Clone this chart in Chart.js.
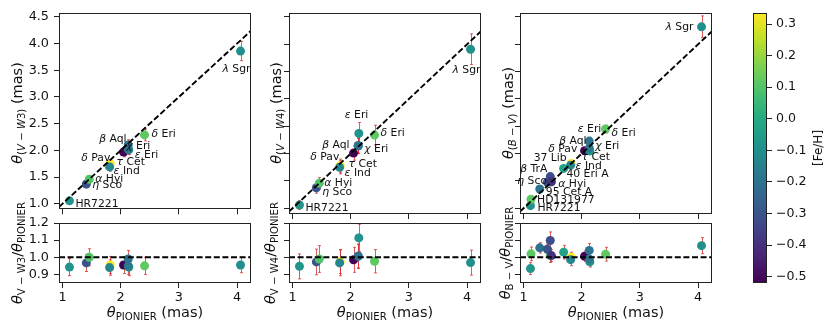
<!DOCTYPE html>
<html>
<head>
<meta charset="utf-8">
<script src="https://cdn.jsdelivr.net/npm/chart.js@4.4.1/dist/chart.umd.min.js"></script>
<style>
body { margin: 0; background: #fff; }
#wrap { position: relative; width: 830px; height: 333px; overflow: hidden; font-family: 'DejaVu Sans'; color: #111; }
canvas { position: absolute; }
.yt { position: absolute; white-space: nowrap; font-size: 14.5px; transform: translate(-50%, -50%) rotate(-90deg); }
.xt { position: absolute; white-space: nowrap; font-size: 14.5px; transform: translate(-50%, -50%); }
.cbt { position: absolute; white-space: nowrap; font-size: 12px; transform: translate(-50%, -50%) rotate(-90deg); }
sub { font-size: 70%; vertical-align: -0.3em; line-height: 0; }
</style>
</head>
<body>
<div id="wrap">
  <canvas id="c1"></canvas><canvas id="c2"></canvas><canvas id="c3"></canvas>
  <canvas id="r1"></canvas><canvas id="r2"></canvas><canvas id="r3"></canvas>
  <canvas id="cb"></canvas>

  <div class="yt" style="left:17px; top:113px"><i>θ</i><sub>(<i>V</i> − <i>W</i>3)</sub> (mas)</div>
  <div class="yt" style="left:276px; top:113px"><i>θ</i><sub>(<i>V</i> − <i>W</i>4)</sub> (mas)</div>
  <div class="yt" style="left:508px; top:113px"><i>θ</i><sub>(<i>B</i> − <i>V</i>)</sub> (mas)</div>

  <div class="yt" style="left:17px; top:253px"><i>θ</i><sub>V − W3</sub>/<i>θ</i><sub>PIONIER</sub></div>
  <div class="yt" style="left:270px; top:253px"><i>θ</i><sub>V − W4</sub>/<i>θ</i><sub>PIONIER</sub></div>
  <div class="yt" style="left:505px; top:253px"><i>θ</i><sub>B − V</sub>/<i>θ</i><sub>PIONIER</sub></div>

  <div class="xt" style="left:155px; top:312px"><i>θ</i><sub>PIONIER</sub> (mas)</div>
  <div class="xt" style="left:385px; top:312px"><i>θ</i><sub>PIONIER</sub> (mas)</div>
  <div class="xt" style="left:616px; top:312px"><i>θ</i><sub>PIONIER</sub> (mas)</div>

  <div class="cbt" style="left:818px; top:148px">[Fe/H]</div>
</div>
<script>
// stars, PIONIER diameters (mas) and metallicity
var stars = ['HR7221', 'HD131977', '95 Cet A', 'α Hyi', 'η Sco', 'β TrA', '40 Eri A', '37 Lib', 'δ Pav', 'ε Ind', 'τ Cet', 'ε Eri', 'χ Eri', 'β Aql', 'δ Eri', 'λ Sgr'];
var thetaPionier = [1.12, 1.13, 1.28, 1.46, 1.41, 1.46, 1.48, 1.69, 1.82, 1.81, 2.05, 2.14, 2.13, 2.13, 2.41, 4.06];
var feh = [-0.08, 0.12, -0.2, 0.1, -0.3, -0.32, -0.4, -0.03, 0.335, -0.13, -0.52, -0.09, -0.18, -0.2, 0.12, -0.1];

// V-W3 and V-W4 relations (same stars)
var starsW = ['HR7221', 'η Sco', 'α Hyi', 'δ Pav', 'ε Ind', 'τ Cet', 'ε Eri', 'χ Eri', 'β Aql', 'δ Eri', 'λ Sgr'];
var thetaW3 = [1.055, 1.37, 1.46, 1.75, 1.69, 1.97, 2.01, 2.02, 2.10, 2.29, 3.86];
var errW3 = [0.05, 0.07, 0.07, 0.08, 0.08, 0.09, 0.09, 0.09, 0.10, 0.11, 0.18];
var ratioW3 = [0.943, 0.967, 1.00, 0.955, 0.94, 0.955, 0.943, 0.95, 0.99, 0.95, 0.955];
var ratioErrW3 = [0.05, 0.05, 0.05, 0.05, 0.045, 0.05, 0.05, 0.05, 0.05, 0.05, 0.045];

var thetaW4 = [1.06, 1.377, 1.46, 1.78, 1.75, 2.01, 2.37, 2.14, 2.15, 2.34, 3.91];
var errW4 = [0.08, 0.10, 0.10, 0.12, 0.12, 0.13, 0.20, 0.14, 0.14, 0.18, 0.28];
var ratioW4 = [0.947, 0.973, 0.99, 0.975, 0.967, 0.985, 1.113, 1.005, 1.008, 0.977, 0.969];
var ratioErrW4 = [0.073, 0.075, 0.078, 0.07, 0.075, 0.073, 0.08, 0.07, 0.07, 0.068, 0.073];

// B-V relation (all stars)
var thetaBV = [1.048, 1.165, 1.354, 1.48, 1.476, 1.58, 1.487, 1.73, 1.82, 1.79, 2.055, 2.05, 2.10, 2.23, 2.45, 4.32];
var errBV = [0.04, 0.04, 0.04, 0.05, 0.05, 0.05, 0.05, 0.05, 0.05, 0.05, 0.05, 0.05, 0.05, 0.06, 0.07, 0.20];
var ratioBV = [0.934, 1.02, 1.055, 1.01, 1.047, 1.098, 1.01, 1.03, 1.0, 0.986, 1.006, 0.973, 0.99, 1.04, 1.018, 1.068];
var ratioErrBV = [0.035, 0.04, 0.03, 0.04, 0.03, 0.05, 0.035, 0.04, 0.03, 0.035, 0.03, 0.03, 0.03, 0.04, 0.04, 0.047];

// axes
var xMin = 0.94, xMax = 4.24;
var yTopMin = 0.896, yTopMax = 4.573;
var yRatMin = 0.85, yRatMax = 1.2;
var xTicks = [1, 2, 3, 4];
var yTopTicks = [1.0, 1.5, 2.0, 2.5, 3.0, 3.5, 4.0, 4.5];
var yRatTicks = [0.9, 1.0, 1.1, 1.2];
var cbMin = -0.52, cbMax = 0.335;
var cbTicks = [-0.5, -0.4, -0.3, -0.2, -0.1, 0.0, 0.1, 0.2, 0.3];

// label offsets in pixels from each point (left edge of text, middle)
var labelsW3 = {'λ Sgr': [-18, 18], 'δ Eri': [7, -1], 'β Aql': [-29, -6], 'χ Eri': [-2, -3], 'ε Eri': [6, 5],
  'δ Pav': [-29, -6], 'τ Cet': [-7, 10], 'ε Ind': [4, 4], 'α Hyi': [6, 0], 'η Sco': [6, 1], 'HR7221': [6, 3.5]};
var labelsW4 = {'λ Sgr': [-18, 21], 'ε Eri': [-14, -18], 'δ Eri': [6, -2], 'β Aql': [-36, 0], 'χ Eri': [6, 3],
  'δ Pav': [-30, -8], 'τ Cet': [-5, 11], 'ε Ind': [5, 6], 'α Hyi': [5, 0], 'η Sco': [6, 4], 'HR7221': [6, 3]};
var labelsBV = {'λ Sgr': [-36, 0], 'ε Eri': [-12, -22], 'δ Eri': [6, 4], 'β Aql': [-30, 0], 'χ Eri': [6, -2],
  'δ Pav': [-23, -14], 'τ Cet': [-3, 7], '37 Lib': [-30, -10], 'ε Ind': [5, 1], '40 Eri A': [15, -7],
  'β TrA': [-30, -7], 'α Hyi': [8, 2], 'η Sco': [-30, -1], '95 Cet A': [6, 3], 'HD131977': [6, 1], 'HR7221': [7, 3]};

Chart.defaults.font.family = 'DejaVu Sans';
Chart.defaults.color = '#111';

var VIR = ['#440154', '#482475', '#414487', '#355f8d', '#2a788e', '#21918c', '#22a884', '#44bf70', '#7ad151', '#bddf26', '#fde725'];

function hexToRgb(h) {
    return [parseInt(h.substr(1, 2), 16), parseInt(h.substr(3, 2), 16), parseInt(h.substr(5, 2), 16)];
}

function viridis(v) {
    var t = Math.max(0, Math.min(1, (v - cbMin) / (cbMax - cbMin)));
    var s = t * (VIR.length - 1);
    var i = Math.min(Math.floor(s), VIR.length - 2);
    var f = s - i;
    var a = hexToRgb(VIR[i]), b = hexToRgb(VIR[i + 1]);
    return 'rgb(' + [0, 1, 2].map(function(k) { return Math.round(a[k] + (b[k] - a[k]) * f); }).join(',') + ')';
}

// error bars under the points
var errPlugin = {
    id: 'errbars',
    beforeDatasetsDraw: function(chart) {
        var ds = chart.data.datasets[1];
        if (!ds || !ds.errors) return;
        var xs = chart.scales.x, ys = chart.scales.y, c = chart.ctx;
        c.save();
        c.strokeStyle = 'rgba(214, 39, 40, 0.75)';
        c.lineWidth = 1;
        ds.data.forEach(function(p, i) {
            var px = Math.round(xs.getPixelForValue(p.x)) + 0.5;
            var y1 = ys.getPixelForValue(p.y - ds.errors[i]);
            var y2 = ys.getPixelForValue(p.y + ds.errors[i]);
            c.beginPath();
            c.moveTo(px, y1); c.lineTo(px, y2);
            c.moveTo(px - 1.5, y1); c.lineTo(px + 1.5, y1);
            c.moveTo(px - 1.5, y2); c.lineTo(px + 1.5, y2);
            c.stroke();
        });
        c.restore();
    }
};

// star names next to the points
var labelPlugin = {
    id: 'starlabels',
    afterDatasetsDraw: function(chart) {
        var ds = chart.data.datasets[1];
        if (!ds || !ds.offsets) return;
        var xs = chart.scales.x, ys = chart.scales.y, c = chart.ctx;
        c.save();
        c.fillStyle = '#111';
        c.textBaseline = 'middle';
        ds.names.forEach(function(n, i) {
            var off = ds.offsets[n];
            if (!off) return;
            var p = ds.data[i];
            var x = xs.getPixelForValue(p.x) + off[0];
            var y = ys.getPixelForValue(p.y) + off[1];
            if (/^[α-ω]/.test(n)) {
                c.font = 'italic 10.8px "DejaVu Sans"';
                c.fillText(n.charAt(0), x, y);
                x += c.measureText(n.charAt(0)).width;
                n = n.slice(1);
            }
            c.font = '10.8px "DejaVu Sans"';
            c.fillText(n, x, y);
        });
        c.restore();
    }
};

// full frame round the plot area
var boxPlugin = {
    id: 'box',
    afterDraw: function(chart) {
        var a = chart.chartArea, c = chart.ctx;
        c.save();
        c.strokeStyle = '#222';
        c.lineWidth = 1;
        c.strokeRect(Math.round(a.left) + 0.5, Math.round(a.top) + 0.5, Math.round(a.right - a.left) - 1, Math.round(a.bottom - a.top) - 1);
        c.restore();
    }
};

var tickGrid = { display: true, drawOnChartArea: false, drawTicks: true, tickLength: 5, color: '#222', lineWidth: 1 };

function place(id, rect) {
    var cv = document.getElementById(id);
    cv.width = rect.w; cv.height = rect.h;
    cv.style.left = rect.x + 'px'; cv.style.top = rect.y + 'px';
    return cv;
}

function fixedTicks(list) {
    return function(s) { s.ticks = list.map(function(v) { return { value: v }; }); };
}

function panel(id, rect, area, yW, xH, o) {
    var cv = place(id, rect);
    var pts = o.names.map(function(n, i) { return { x: thetaPionier[stars.indexOf(n)], y: o.values[i] }; });
    var cols = o.names.map(function(n) { return viridis(feh[stars.indexOf(n)]); });
    return new Chart(cv, {
        type: 'scatter',
        data: {
            datasets: [{
                type: 'line',
                data: o.ref,
                borderColor: '#000',
                borderWidth: 1.9,
                borderDash: [6, 2.6],
                pointRadius: 0,
                fill: false,
                order: 0
            }, {
                data: pts,
                pointRadius: 4.5,
                pointBackgroundColor: cols,
                pointBorderColor: cols,
                pointBorderWidth: 0,
                errors: o.errors,
                names: o.names,
                offsets: o.labels,
                order: 1
            }]
        },
        options: {
            responsive: false,
            animation: false,
            events: [],
            layout: {
                padding: {
                    left: area.l - rect.x - yW,
                    top: area.t - rect.y,
                    right: rect.x + rect.w - area.r,
                    bottom: rect.y + rect.h - area.b - xH
                }
            },
            plugins: { legend: { display: false }, tooltip: { enabled: false } },
            scales: {
                x: {
                    type: 'linear', min: xMin, max: xMax, bounds: 'data',
                    afterBuildTicks: fixedTicks(xTicks),
                    afterFit: function(s) { s.height = xH; },
                    ticks: { display: o.xLabels, font: { size: 12.8 }, color: '#111', padding: 2,
                        callback: function(v) { return String(v); } },
                    grid: tickGrid,
                    border: { display: false }
                },
                y: {
                    type: 'linear', min: o.yMin, max: o.yMax, bounds: 'data',
                    afterBuildTicks: fixedTicks(o.yTicks),
                    afterFit: function(s) { s.width = yW; },
                    ticks: { display: o.yLabels, font: { size: 12.8 }, color: '#111', padding: 5,
                        callback: function(v) { return v.toFixed(1); } },
                    grid: tickGrid,
                    border: { display: false }
                }
            }
        },
        plugins: [errPlugin, labelPlugin, boxPlugin]
    });
}

var topRef = [{ x: xMin, y: xMin }, { x: xMax, y: xMax }];
var ratRef = [{ x: xMin, y: 1 }, { x: xMax, y: 1 }];

// columns: plot areas in page pixels
var cols3 = [
    { canvasX: 0, w: 262, l: 59, r: 251, yW: 59, labels: true },
    { canvasX: 282, w: 210, l: 289, r: 481, yW: 5, labels: false },
    { canvasX: 513, w: 210, l: 520, r: 712, yW: 5, labels: false }
];
var sets = [
    { names: starsW, top: thetaW3, topErr: errW3, rat: ratioW3, ratErr: ratioErrW3, lab: labelsW3 },
    { names: starsW, top: thetaW4, topErr: errW4, rat: ratioW4, ratErr: ratioErrW4, lab: labelsW4 },
    { names: stars, top: thetaBV, topErr: errBV, rat: ratioBV, ratErr: ratioErrBV, lab: labelsBV }
];

for (var k = 0; k < 3; k++) {
    var cc = cols3[k], st = sets[k];
    panel('c' + (k + 1), { x: cc.canvasX, y: 0, w: cc.w, h: 222 }, { l: cc.l, r: cc.r, t: 13, b: 214 }, cc.yW, 5, {
        names: st.names, values: st.top, errors: st.topErr, labels: st.lab, ref: topRef,
        yMin: yTopMin, yMax: yTopMax, yTicks: yTopTicks, xLabels: false, yLabels: cc.labels
    });
    panel('r' + (k + 1), { x: cc.canvasX, y: 208, w: cc.w, h: 100 }, { l: cc.l, r: cc.r, t: 223, b: 283 }, cc.yW, 22, {
        names: st.names, values: st.rat, errors: st.ratErr, labels: null, ref: ratRef,
        yMin: yRatMin, yMax: yRatMax, yTicks: yRatTicks, xLabels: true, yLabels: cc.labels
    });
}

// colour bar
var cbRect = { x: 748, y: 0, w: 70, h: 333 };
var cbArea = { l: 753, r: 767, t: 13, b: 283 };
new Chart(place('cb', cbRect), {
    type: 'bar',
    data: {
        labels: [''],
        datasets: [{
            data: [[cbMin, cbMax]],
            backgroundColor: function(ctx) {
                var ch = ctx.chart;
                if (!ch.chartArea) return null;
                var y = ch.scales.y;
                var g = ch.ctx.createLinearGradient(0, y.getPixelForValue(cbMin), 0, y.getPixelForValue(cbMax));
                VIR.forEach(function(h, i) { g.addColorStop(i / (VIR.length - 1), h); });
                return g;
            },
            barPercentage: 1,
            categoryPercentage: 1,
            borderWidth: 0
        }]
    },
    options: {
        responsive: false,
        animation: false,
        events: [],
        layout: { padding: { left: cbArea.l - cbRect.x, top: cbArea.t - cbRect.y, right: cbRect.x + cbRect.w - cbArea.r - 40, bottom: cbRect.y + cbRect.h - cbArea.b } },
        plugins: { legend: { display: false }, tooltip: { enabled: false } },
        scales: {
            x: { display: false },
            y: {
                position: 'right', min: cbMin, max: cbMax, bounds: 'data',
                afterBuildTicks: fixedTicks(cbTicks),
                afterFit: function(s) { s.width = 40; },
                ticks: { font: { size: 12.6 }, color: '#111', padding: 4,
                    callback: function(v) { return (v < -1e-9 ? '\u2212' : '') + Math.abs(v).toFixed(1); } },
                grid: tickGrid,
                border: { display: false }
            }
        }
    },
    plugins: [boxPlugin]
});
</script>
</body>
</html>
